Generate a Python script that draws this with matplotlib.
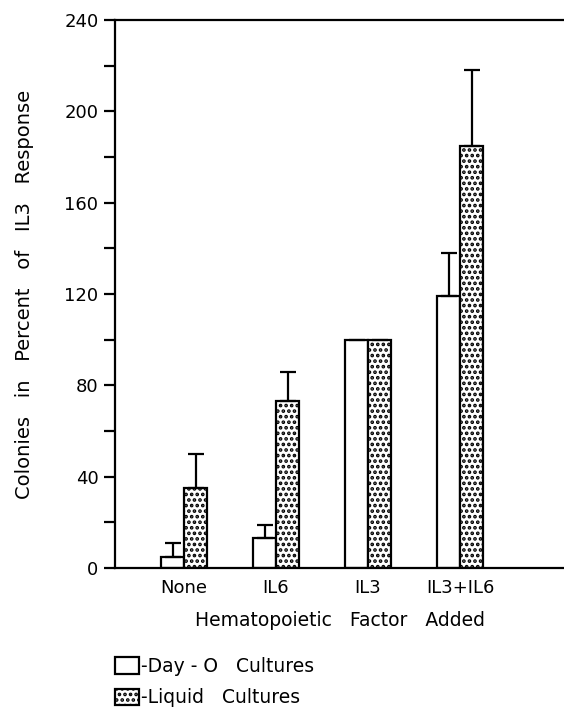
import matplotlib.pyplot as plt
from matplotlib.patches import Patch
import numpy as np

factors = ['None', 'IL6', 'IL3', 'IL3+IL6']
day0 = [5, 13, 100, 119]
day0_err = [6, 6, np.nan, 19]
liquid = [35, 73, 100, 185]
liquid_err = [15, 13, np.nan, 33]

plt.rcParams['font.family'] = 'DejaVu Sans'
plt.rcParams['hatch.linewidth'] = 1.8

fig = plt.figure(figsize=(5.64, 7.18), dpi=100)
ax = fig.add_axes([0.204, 0.209, 0.796, 0.763])

x = np.arange(len(factors))
w = 0.25
ekw = dict(elinewidth=1.6, capthick=1.6, ecolor='black')
ax.bar(x - w / 2, day0, w, color='white', edgecolor='black', linewidth=1.6,
       yerr=[np.zeros(4), day0_err], capsize=6, error_kw=ekw)
ax.bar(x + w / 2, liquid, w, color='white', edgecolor='black', linewidth=1.6,
       hatch='...', yerr=[np.zeros(4), liquid_err], capsize=6, error_kw=ekw)

ax.set_xlim(-0.75, 4.13)
ax.set_ylim(0, 240)
ax.set_yticks(range(0, 241, 40))
ax.set_yticks(range(20, 240, 40), minor=True)
ax.set_xticks(x)
ax.set_xticklabels(factors, fontsize=13)
ax.tick_params(axis='x', length=0, pad=8)
ax.tick_params(axis='y', which='both', length=8, width=1.6, labelsize=13, pad=4)
for s in ['left', 'bottom', 'top']:
    ax.spines[s].set_linewidth(1.6)
ax.spines['right'].set_visible(False)

ax.set_ylabel('Colonies   in   Percent   of   IL3   Response', fontsize=14, labelpad=22)
ax.set_xlabel('Hematopoietic   Factor   Added', fontsize=13.5, labelpad=10)

handles = [Patch(facecolor='white', edgecolor='black', linewidth=1.6),
           Patch(facecolor='white', edgecolor='black', linewidth=1.6, hatch='...')]
fig.legend(handles, ['-Day - O   Cultures', '-Liquid   Cultures'],
           loc='upper left', bbox_to_anchor=(0.19, 0.095), frameon=False,
           fontsize=13.5, handlelength=1.3, handleheight=1.0, handletextpad=0.1,
           labelspacing=0.65, borderaxespad=0)

fig.savefig('out.png', dpi=100)
